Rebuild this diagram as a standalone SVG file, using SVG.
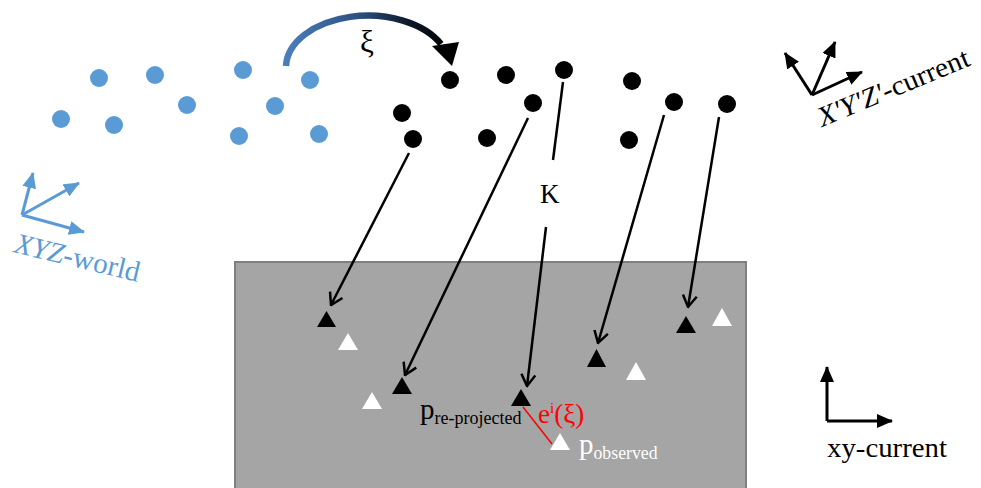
<svg xmlns="http://www.w3.org/2000/svg" width="981" height="488" viewBox="0 0 981 488">
<style>
.bd{fill:#5b9bd5}
.kd{fill:#000}
.con{stroke:#000;stroke-width:2.5;fill:none;marker-end:url(#open)}
.tb{fill:#000}
.tw{fill:#fff}
.serif{font-family:"Liberation Serif","DejaVu Serif",serif}
.bax{stroke:#5b9bd5;stroke-width:3;fill:none;marker-end:url(#fb)}
.kax{stroke:#000;stroke-width:3;fill:none;marker-end:url(#fk)}
</style>
<defs>
<marker id="open" viewBox="0 0 14 16" refX="12.5" refY="8" markerWidth="14" markerHeight="16" markerUnits="userSpaceOnUse" orient="auto">
<path d="M1,1 L12.5,8 L1,15" fill="none" stroke="#000" stroke-width="2.5"/>
</marker>
<marker id="fb" viewBox="0 0 16 14" refX="15" refY="7" markerWidth="16" markerHeight="14" markerUnits="userSpaceOnUse" orient="auto">
<path d="M0,0 L16,7 L0,14 z" fill="#5b9bd5"/>
</marker>
<marker id="fk" viewBox="0 0 16 14" refX="15" refY="7" markerWidth="16" markerHeight="14" markerUnits="userSpaceOnUse" orient="auto">
<path d="M0,0 L16,7 L0,14 z" fill="#000"/>
</marker>
<linearGradient id="g" gradientUnits="userSpaceOnUse" x1="286" y1="0" x2="450" y2="0">
<stop offset="0" stop-color="#4a7ebb"/>
<stop offset="0.45" stop-color="#2c5080"/>
<stop offset="0.75" stop-color="#0c1828"/>
<stop offset="1" stop-color="#000"/>
</linearGradient>
</defs>

<g id="image-plane">
<rect x="235" y="262" width="511" height="240" fill="#a5a5a5" stroke="#7f7f7f" stroke-width="2"/>
</g>

<g id="world-points">
<circle class="bd" cx="99" cy="78" r="9"/>
<circle class="bd" cx="155" cy="75" r="9"/>
<circle class="bd" cx="243" cy="70" r="9"/>
<circle class="bd" cx="310" cy="80" r="9"/>
<circle class="bd" cx="61" cy="119" r="9"/>
<circle class="bd" cx="114" cy="125" r="9"/>
<circle class="bd" cx="187" cy="105" r="9"/>
<circle class="bd" cx="275" cy="106" r="9"/>
<circle class="bd" cx="239" cy="136" r="9"/>
<circle class="bd" cx="319" cy="134" r="9"/>
</g>

<g id="current-points">
<circle class="kd" cx="450" cy="80" r="9"/>
<circle class="kd" cx="506" cy="75" r="9"/>
<circle class="kd" cx="564" cy="70" r="9"/>
<circle class="kd" cx="632" cy="81" r="9"/>
<circle class="kd" cx="402" cy="113" r="9"/>
<circle class="kd" cx="533" cy="103" r="9"/>
<circle class="kd" cx="674" cy="102" r="9"/>
<circle class="kd" cx="727" cy="104" r="9"/>
<circle class="kd" cx="413" cy="139" r="9"/>
<circle class="kd" cx="487" cy="138" r="9"/>
<circle class="kd" cx="629" cy="140" r="9"/>
</g>

<g id="transform-xi">
<path d="M286,66 A82,52 0 0 1 441,44" fill="none" stroke="url(#g)" stroke-width="6.5"/>
<polygon points="432,46 459,42 452,66" fill="#000"/>
<text class="serif" x="360" y="52" font-size="31" fill="#000">ξ</text>
</g>

<g id="connectors">
<line class="con" x1="409" y1="153" x2="331" y2="305"/>
<line class="con" x1="528" y1="118" x2="405" y2="375"/>
<line x1="563" y1="82" x2="553" y2="160" stroke="#000" stroke-width="2.5"/>
<line class="con" x1="546" y1="227" x2="527" y2="386"/>
<line class="con" x1="664" y1="115" x2="598" y2="343"/>
<line class="con" x1="719" y1="117" x2="688" y2="307"/>
<line x1="523" y1="407" x2="552" y2="444" stroke="#ff0000" stroke-width="1.5"/>
</g>

<g id="label-K">
<text class="serif" x="540" y="203" font-size="27" fill="#000">K</text>
</g>

<g id="projected-points">
<polygon class="tb" points="317,327 336,327 326.5,311"/>
<polygon class="tb" points="392,394 412,394 402,377"/>
<polygon class="tb" points="511,406 531,406 521,389"/>
<polygon class="tb" points="587,367 606,367 596.5,349"/>
<polygon class="tb" points="676,333 696,333 686,316"/>
</g>

<g id="observed-points">
<polygon class="tw" points="338,350 358,350 348,333"/>
<polygon class="tw" points="362,409 382,409 372,392"/>
<polygon class="tw" points="550,450 570,450 560,433"/>
<polygon class="tw" points="626,380 646,380 636,362"/>
<polygon class="tw" points="712,326 732,326 722,308"/>
</g>

<g id="labels">
<text class="serif" x="420" y="419" font-size="29" fill="#000">p<tspan font-size="19" dy="5" textLength="87" lengthAdjust="spacingAndGlyphs">re-projected</tspan></text>
<text class="serif" x="579" y="454" font-size="29" fill="#fff">p<tspan font-size="19" dy="5" textLength="64" lengthAdjust="spacingAndGlyphs">observed</tspan></text>
<text class="serif" x="538" y="423" font-size="27" fill="#ff0000">e<tspan font-size="15" dy="-10">i</tspan><tspan dy="10">(ξ)</tspan></text>
</g>

<g id="world-axes">
<line class="bax" x1="22" y1="215" x2="33" y2="173"/>
<line class="bax" x1="22" y1="215" x2="79" y2="183"/>
<line class="bax" x1="22" y1="215" x2="84" y2="232"/>
<text class="serif" x="13" y="252" font-size="29" fill="#5b9bd5" textLength="128" lengthAdjust="spacingAndGlyphs" transform="rotate(13.5 13 252)"><tspan font-style="italic">XYZ</tspan>-world</text>
</g>

<g id="current-axes">
<line class="kax" x1="812" y1="95" x2="785" y2="53"/>
<line class="kax" x1="812" y1="95" x2="835" y2="42"/>
<line class="kax" x1="812" y1="95" x2="862" y2="72"/>
<text class="serif" x="822" y="127" font-size="28" fill="#000" textLength="162" lengthAdjust="spacingAndGlyphs" transform="rotate(-22.5 822 127)"><tspan font-style="italic">X'Y'Z'</tspan>-current</text>
</g>

<g id="image-axes">
<line class="kax" x1="827" y1="421" x2="827" y2="367"/>
<line class="kax" x1="827" y1="421" x2="892" y2="421"/>
<text class="serif" x="827" y="457" font-size="28" fill="#000" textLength="120" lengthAdjust="spacingAndGlyphs">xy-current</text>
</g>
</svg>
